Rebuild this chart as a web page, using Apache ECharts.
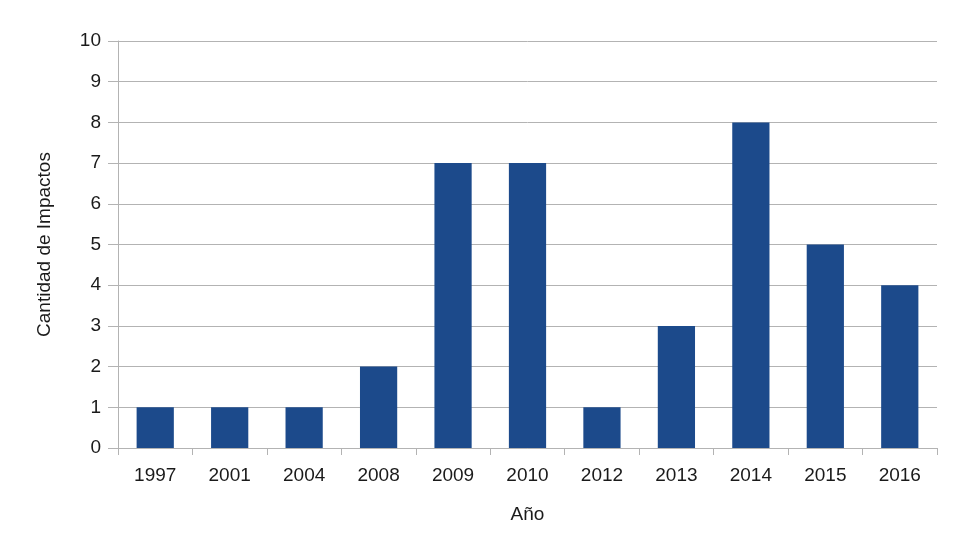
<!DOCTYPE html>
<html><head><meta charset="utf-8">
<script src="https://cdn.jsdelivr.net/npm/echarts@6/dist/echarts.min.js"></script>
<style>html,body{margin:0;padding:0;background:#fff}#c{width:955px;height:555px}</style>
</head><body><div id="c"></div>
<script>
const categories = ['1997','2001','2004','2008','2009','2010','2012','2013','2014','2015','2016'];
const impactos = [1,1,1,2,7,7,1,3,8,5,4];
const chart = echarts.init(document.getElementById('c'), null, {renderer:'canvas'});
const font = 'Liberation Sans, Arial, sans-serif';
chart.setOption({
  animation:false,
  backgroundColor:'#fff',
  grid:{left:118,right:18,top:41,bottom:107},
  xAxis:{
    type:'category', data:categories,
    name:'Año', nameLocation:'middle', nameGap:57,
    nameTextStyle:{fontFamily:font,fontSize:19,color:'#1a1a1a'},
    axisLine:{lineStyle:{color:'#b3b3b3'}},
    axisTick:{show:true,alignWithLabel:false,length:7,lineStyle:{color:'#b3b3b3'}},
    axisLabel:{fontFamily:font,fontSize:19,color:'#1a1a1a',margin:18}
  },
  yAxis:{
    type:'value', min:0, max:10, interval:1,
    name:'Cantidad de Impactos', nameLocation:'middle', nameGap:64, nameRotate:90,
    nameTextStyle:{fontFamily:font,fontSize:19,color:'#1a1a1a'},
    axisLine:{show:true,lineStyle:{color:'#b3b3b3'}},
    axisTick:{show:true,length:10,lineStyle:{color:'#b3b3b3'}},
    splitLine:{lineStyle:{color:'#b3b3b3'}},
    axisLabel:{fontFamily:font,fontSize:19,color:'#1a1a1a',margin:17}
  },
  series:[{type:'bar',data:impactos,barWidth:'50%',itemStyle:{color:'#1c4a8b'}}]
});
</script></body></html>
